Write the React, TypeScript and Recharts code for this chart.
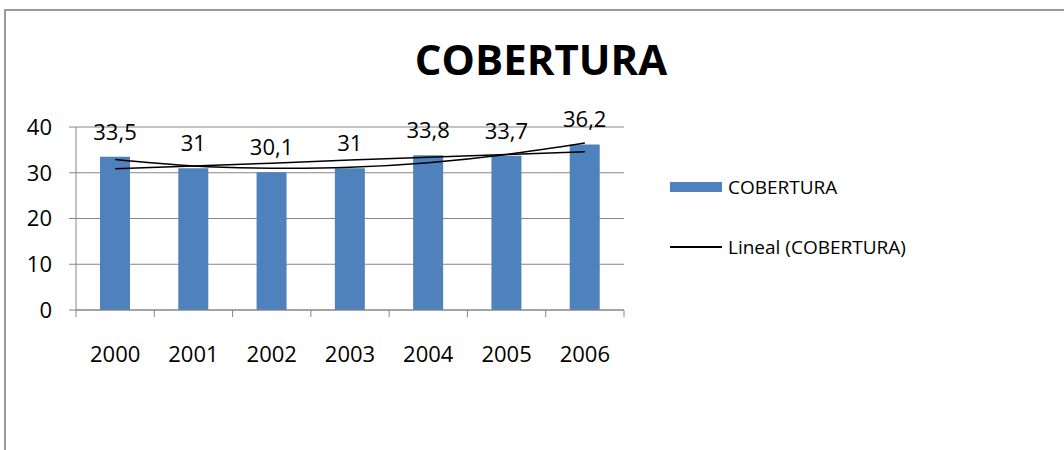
import { ComposedChart, Bar, Line, XAxis, YAxis, CartesianGrid, LabelList } from "recharts";

const years = ["2000", "2001", "2002", "2003", "2004", "2005", "2006"];
const cobertura = [33.5, 31, 30.1, 31, 33.8, 33.7, 36.2];
// trend lines
const lineal = [30.9, 31.5, 32.1, 32.8, 33.4, 34.0, 34.6];
const poly = [32.9, 31.5, 31.0, 31.2, 32.2, 34.0, 36.5];
const yTicks = [0, 10, 20, 30, 40];

const data = years.map((year, i) => ({
  year,
  cobertura: cobertura[i],
  lineal: lineal[i],
  poly: poly[i],
}));

const FONT = "'Open Sans', sans-serif";
const AXIS = "#868686";
const BLUE = "#4F81BD";
const PLOT_W = 548;
const BAND = PLOT_W / years.length;

const XTick = (props: any) => {
  const { x, y, payload, index } = props;
  const left = x - BAND / 2;
  return (
    <g>
      <line x1={left} y1={y} x2={left} y2={y + 7} stroke={AXIS} />
      {index === years.length - 1 && (
        <line x1={left + BAND} y1={y} x2={left + BAND} y2={y + 7} stroke={AXIS} />
      )}
      <text x={x} y={y + 52} textAnchor="middle" fill="#000" fontSize={22} fontFamily={FONT}>
        {payload.value}
      </text>
    </g>
  );
};

const fmt = (v: any) => String(v).replace(".", ",");

const App = () => {
  return (
    <div style={{ position: "relative", width: 1064, height: 450, overflow: "hidden", fontFamily: FONT, background: "#fff" }}>
      <style>{`body{margin:0}`}</style>
      <div
        style={{
          position: "absolute",
          left: 4,
          top: 9,
          width: 1200,
          height: 600,
          border: "2px solid #9a9a9a",
          boxSizing: "border-box",
        }}
      />
      <div
        style={{
          position: "absolute",
          left: 0,
          top: 38,
          width: 1082,
          textAlign: "center",
          fontSize: 42,
          fontWeight: 700,
          lineHeight: "42px",
          color: "#000",
        }}
      >
        COBERTURA
      </div>
      <div style={{ position: "absolute", left: 0, top: 0 }}>
        <ComposedChart
          width={1064}
          height={450}
          data={data}
          margin={{ top: 127, right: 440, bottom: 80, left: 0 }}
        >
          <CartesianGrid horizontal vertical={false} stroke={AXIS} />
          <XAxis
            dataKey="year"
            height={60}
            axisLine={{ stroke: AXIS }}
            tickLine={false}
            tickSize={0}
            tickMargin={0}
            tick={<XTick />}
            interval={0}
          />
          <YAxis
            width={76}
            domain={[0, 40]}
            ticks={yTicks}
            axisLine={{ stroke: AXIS }}
            tickLine={{ stroke: AXIS }}
            tickSize={7}
            tickMargin={17}
            tick={{ fill: "#000", fontSize: 22, fontFamily: FONT }}
          />
          <Bar dataKey="cobertura" fill={BLUE} barSize={30} isAnimationActive={false}>
            <LabelList
              dataKey="cobertura"
              position="top"
              offset={17}
              formatter={fmt}
              style={{ fill: "#000", fontSize: 22, fontFamily: FONT }}
            />
          </Bar>
          <Line dataKey="poly" type="natural" stroke="#000" strokeWidth={1.5} dot={false} isAnimationActive={false} />
          <Line dataKey="lineal" type="linear" stroke="#000" strokeWidth={1.5} dot={false} isAnimationActive={false} />
        </ComposedChart>
      </div>
      <div style={{ position: "absolute", left: 670, top: 172, fontSize: 19, color: "#000" }}>
        <div style={{ display: "flex", alignItems: "center", height: 30 }}>
          <span style={{ display: "inline-block", width: 52, height: 10, background: BLUE, marginRight: 6 }} />
          <span>COBERTURA</span>
        </div>
        <div style={{ display: "flex", alignItems: "center", height: 30, marginTop: 30 }}>
          <span style={{ display: "inline-block", width: 52, height: 1.5, background: "#000", marginRight: 6 }} />
          <span>Lineal (COBERTURA)</span>
        </div>
      </div>
    </div>
  );
};

export default App;
